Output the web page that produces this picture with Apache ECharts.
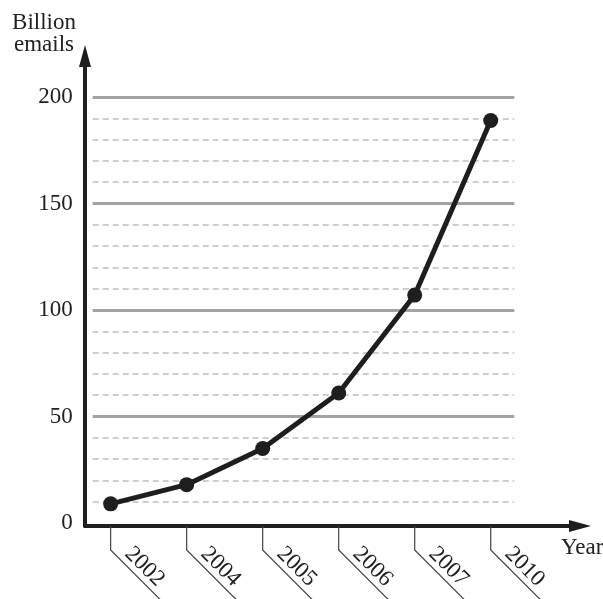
<!DOCTYPE html>
<html><head><meta charset="utf-8">
<script src="https://cdn.jsdelivr.net/npm/echarts@6/dist/echarts.min.js"></script>
<style>html,body{margin:0;padding:0;background:#fff}#c{width:603px;height:599px}</style>
</head><body><div id="c"></div>
<script>
var categories = ['2002','2004','2005','2006','2007','2010'];
var emails = [9, 18, 35, 61, 107, 189];
var yTitle = 'Billion\nemails';
var xTitle = 'Year';

var FONT = '"Liberation Serif", "Times New Roman", serif';
var chart = echarts.init(document.getElementById('c'));

function cyc(n, step, col) {
  var a = [];
  for (var i = 0; i < n; i++) a.push(i === 0 || (step && i % step === 0) ? 'rgba(0,0,0,0)' : col);
  return a;
}

var lineData = emails.map(function (v, i) { return [i, v]; });
var tickData = categories.map(function (c, i) { return [i, 0]; });

chart.setOption({
  animation: false,
  backgroundColor: '#fff',
  grid: [
    {left: 92.7, right: 88.7, top: 97, bottom: 76},
    {left: 85, right: 23, top: 56, bottom: 73}
  ],
  xAxis: [
    {gridIndex: 0, type: 'value', min: -0.236, max: 5.31, show: false},
    {gridIndex: 1, type: 'value', min: 0, max: 1,
     axisLine: {show: true, symbol: ['none', 'triangle'], symbolSize: [12, 22], lineStyle: {color: '#1e1e1e', width: 4}},
     axisTick: {show: false}, axisLabel: {show: false}, splitLine: {show: false}}
  ],
  yAxis: [
    {gridIndex: 0, type: 'value', position: 'left', min: 0, max: 200, interval: 10,
     axisLine: {show: false}, axisTick: {show: false}, axisLabel: {show: false},
     splitLine: {show: true, lineStyle: {color: cyc(21, 5, '#bdbdbd'), width: 1.6, type: [6, 4]}}},
    {gridIndex: 0, type: 'value', position: 'left', offset: 0, min: 0, max: 200, interval: 50,
     axisLine: {show: false}, axisTick: {show: false},
     axisLabel: {show: true, margin: 20, fontFamily: FONT, fontSize: 23, color: '#222'},
     splitLine: {show: true, lineStyle: {color: cyc(5, 0, '#a3a3a3'), width: 3}}},
    {gridIndex: 1, type: 'value', min: 0, max: 1,
     axisLine: {show: true, symbol: ['none', 'triangle'], symbolSize: [12, 22], lineStyle: {color: '#1e1e1e', width: 4}},
     axisTick: {show: false}, axisLabel: {show: false}, splitLine: {show: false}}
  ],
  graphic: [
    {type: 'text', x: 44, y: 12, z: 10,
     style: {text: yTitle, align: 'center', verticalAlign: 'top', font: '23px ' + FONT, lineHeight: 22, fill: '#222'}},
    {type: 'text', x: 561, y: 548, z: 10,
     style: {text: xTitle, align: 'left', verticalAlign: 'middle', font: '23px ' + FONT, fill: '#222'}}
  ],
  series: [
    {type: 'custom', xAxisIndex: 0, yAxisIndex: 0, clip: false, z: 3, data: tickData,
     renderItem: function (params, api) {
       var p = api.coord([api.value(0), 0]);
       var x = p[0], y0 = p[1] + 3, yc = p[1] + 27;
       return {type: 'group', children: [
         {type: 'polyline', shape: {points: [[x, y0], [x, yc], [x + 70, yc + 70]]},
          style: {stroke: '#444', lineWidth: 1.2, fill: null}},
         {type: 'text', x: x + 9.5, y: yc + 8.5, rotation: -Math.PI / 4,
          style: {text: categories[params.dataIndex], x: 0, y: 0, align: 'left', verticalAlign: 'bottom',
                  font: '23px ' + FONT, fill: '#222'}}
       ]};
     }},
    {type: 'line', xAxisIndex: 0, yAxisIndex: 0, data: lineData, z: 5,
     symbol: 'circle', symbolSize: 15,
     lineStyle: {color: '#1e1e1e', width: 5},
     itemStyle: {color: '#1e1e1e'}}
  ]
});
</script></body></html>
